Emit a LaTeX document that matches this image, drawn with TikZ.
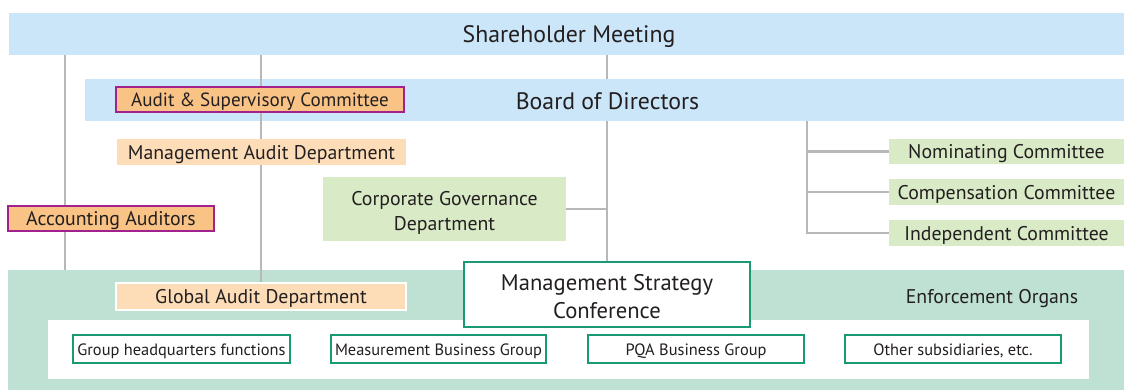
\documentclass[tikz,border=0pt]{standalone}
\usepackage{fontspec}
\setmainfont{PT Sans}
\usetikzlibrary{backgrounds}
\definecolor{bandblue}{HTML}{CBE6F8}
\definecolor{orgfill}{HTML}{F9C385}
\definecolor{magborder}{HTML}{A3218E}
\definecolor{peach}{HTML}{FDDDB8}
\definecolor{lgreen}{HTML}{D9EAC6}
\definecolor{mint}{HTML}{BFE1D4}
\definecolor{boxgreen}{HTML}{1A9A74}
\definecolor{linegray}{HTML}{B8B8B8}
\definecolor{txt}{HTML}{231F20}
\newcommand{\bigf}{\fontsize{23.8}{26}\selectfont}
\newcommand{\mscf}{\fontsize{22.6}{28}\selectfont}
\newcommand{\midf}{\fontsize{19.8}{25}\selectfont}
\newcommand{\smallf}{\fontsize{16.4}{19}\selectfont}
\tikzset{
  base/.style={rectangle, inner sep=0pt, outer sep=0pt, text=txt, align=center},
  band/.style={base, fill=bandblue, font=\bigf, text height=17.9pt, text depth=0pt},
  midtext/.style={base, font=\midf, text height=14.9pt, text depth=0pt},
  auditor/.style={midtext, fill=orgfill, draw=magborder, line width=1.2pt},
  peachbox/.style={midtext, fill=peach},
  greenbox/.style={midtext, fill=lgreen},
  groupbox/.style={base, fill=white, draw=boxgreen, line width=1.3pt, font=\smallf, text height=12.3pt, text depth=0pt},
  conn/.style={draw=linegray, line width=2.5pt}
}
\begin{document}
\begin{tikzpicture}[x=1pt,y=-1pt]
\useasboundingbox (0,0) rectangle (1124,390);
% boxes (main layer)
\node[auditor, font=\fontsize{19.1}{22}\selectfont, text height=14.3pt, minimum width=288pt, minimum height=25pt] (asc) at (260,99.5) {Audit \& Supervisory Committee};
\node[peachbox, minimum width=289pt, minimum height=26pt] (mad) at (261.5,152) {Management Audit Department};
\node[auditor, minimum width=206pt, minimum height=25pt] (aa) at (111,218.5) {Accounting Auditors};
\node[base, fill=lgreen, font=\midf, minimum width=243pt, minimum height=64pt] (cgd) at (444.5,209) {\rule{0pt}{22.3pt}Corporate Governance\\Department};
\node[greenbox, minimum width=235pt, minimum height=25pt] (nom) at (1006.5,151.5) {Nominating Committee};
\node[greenbox, minimum width=235pt, minimum height=26pt] (comp) at (1006.5,192) {Compensation Committee};
\node[greenbox, minimum width=235pt, minimum height=26pt] (ind) at (1006.5,233) {Independent Committee};
\node[peachbox, draw=white, line width=2pt, minimum width=290pt, minimum height=27pt] (gad) at (261,296.5) {Global Audit Department};
\node[base, fill=white, draw=boxgreen, line width=1.3pt, font=\mscf, minimum width=286pt, minimum height=65pt] (msc) at (607,294.5) {\rule{0pt}{19.5pt}Management Strategy\\Conference};
\node[groupbox, minimum width=217pt, minimum height=28pt] (b1) at (181.5,349) {Group headquarters functions};
\node[groupbox, minimum width=215pt, minimum height=28pt] (b2) at (438.5,349) {Measurement Business Group};
\node[groupbox, minimum width=216pt, minimum height=28pt] (b3) at (696,349) {PQA Business Group};
\node[groupbox, minimum width=216pt, minimum height=28pt] (b4) at (953,349) {Other subsidiaries, etc.};
\begin{pgfonlayer}{background}
\node[band, minimum width=1115pt, minimum height=42pt] (sh) at (566.5,34) {\hspace*{5pt}Shareholder Meeting};
\node[band, minimum width=1039pt, minimum height=42pt] (bod) at (604.5,100.5) {\hspace*{6pt}Board of Directors};
\node[base, fill=mint, minimum width=1116pt, minimum height=120pt] (enf) at (566,330) {};
\node[midtext] (enflbl) at (992,296.5) {Enforcement Organs};
\node[base, fill=white, minimum width=1041pt, minimum height=59pt] (inner) at (568.5,349.5) {};
\coordinate (xa) at (65,0);
\coordinate (xb) at (261,0);
\coordinate (xd) at (807,0);
\draw[conn] (xa |- sh.south) -- (xa |- enf.north);
\draw[conn] (xb |- sh.south) -- (xb |- gad.north);
\draw[conn] (sh.south -| msc.north) -- (bod.north -| msc.north);
\draw[conn] (bod.south -| msc.north) -- (msc.north);
\draw[conn] (cgd.east) -- (cgd.east -| msc.north);
\draw[conn] (xd |- bod.south) -- (xd |- ind.west) -- (ind.west);
\draw[conn] (xd |- nom.west) -- (nom.west);
\draw[conn] (xd |- comp.west) -- (comp.west);
\end{pgfonlayer}
\end{tikzpicture}
\end{document}
